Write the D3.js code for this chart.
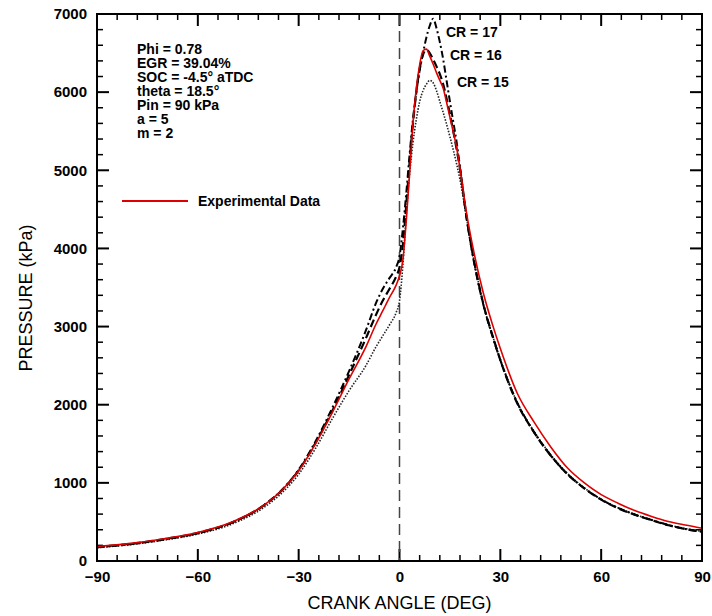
<!DOCTYPE html>
<html>
<head>
<meta charset="utf-8">
<script src="https://cdn.jsdelivr.net/npm/d3@7"></script>
<style>
body { margin: 0; background: #fff; }
text { font-family: "Liberation Sans", Arial, sans-serif; }
</style>
</head>
<body>
<svg id="chart" width="712" height="616"></svg>
<script>
'use strict';

// crank angle (deg) shared by every series
const crankAngle = [-90, -80, -70, -60, -50, -40, -35, -30, -25, -20, -15, -10, -7, -5, -3, -1, 0, 1, 2, 3, 4, 5, 6, 7, 8, 9, 10,
    11, 12, 13, 14, 15, 16, 17, 18, 20, 22, 25, 28, 30, 35, 40, 45, 50, 55, 60, 65, 70, 75, 80, 85, 90];

// pressure (kPa)
const experimental = [185, 225, 285, 365, 495, 725, 905, 1155, 1500, 1900, 2330, 2740, 3030, 3200, 3370, 3530, 3650, 3850, 4350, 4950, 5600, 6050,
    6350, 6530, 6550, 6460, 6360, 6250, 6150, 6050, 5870, 5680, 5490, 5290, 5020, 4440, 3980, 3420, 2980, 2720, 2150, 1780, 1460, 1190,
    1000, 850, 740, 645, 570, 505, 460, 420];
const cr17 = [175, 215, 275, 355, 490, 725, 910, 1170, 1530, 1960, 2430, 2950, 3300, 3480, 3620, 3760, 3900, 4250, 4700, 5200, 5650, 6000,
    6280, 6500, 6700, 6850, 6940, 6820, 6640, 6420, 6150, 5880, 5620, 5360, 5040, 4380, 3860, 3270, 2830, 2570, 2030, 1650, 1350, 1110,
    930, 790, 680, 595, 525, 460, 410, 375];
const cr16 = [180, 220, 280, 360, 490, 725, 905, 1160, 1510, 1920, 2380, 2850, 3150, 3330, 3480, 3640, 3760, 4050, 4550, 5100, 5600, 6000,
    6300, 6480, 6540, 6500, 6420, 6330, 6230, 6100, 5920, 5720, 5500, 5270, 5020, 4380, 3880, 3280, 2840, 2570, 2020, 1650, 1350, 1110,
    930, 785, 675, 592, 522, 457, 410, 375];
const cr15 = [170, 210, 268, 345, 470, 695, 870, 1110, 1440, 1820, 2180, 2500, 2740, 2880, 3020, 3180, 3330, 3780, 4420, 4950, 5350, 5650,
    5880, 6020, 6100, 6150, 6120, 6020, 5880, 5740, 5590, 5430, 5260, 5080, 4880, 4380, 3880, 3280, 2840, 2580, 2030, 1660, 1360, 1120,
    935, 790, 682, 596, 527, 462, 415, 378];

const xTicks = [-90, -60, -30, 0, 30, 60, 90];
const yTicks = [0, 1000, 2000, 3000, 4000, 5000, 6000, 7000];
const notes = ['Phi = 0.78', 'EGR = 39.04%', 'SOC = -4.5\u00b0 aTDC', 'theta = 18.5\u00b0', 'Pin = 90 kPa', 'a = 5', 'm = 2'];
const crLabels = ['CR = 17', 'CR = 16', 'CR = 15'];

const svg = d3.select('#chart');
const plotLeft = 97, plotRight = 702, plotTop = 14, plotBottom = 561;

const x = d3.scaleLinear().domain([-90, 90]).range([plotLeft, plotRight]);
const y = d3.scaleLinear().domain([0, 7000]).range([plotBottom, plotTop]);

// tick labels from d3 axes
function styleLabels(g)
{
    g.select('.domain').remove();
    g.selectAll('.tick line').remove();
    g.selectAll('text').attr('fill', '#000').attr('font-size', 15).attr('font-weight', 'bold');
}
svg.append('g').attr('transform', `translate(0,${plotBottom})`)
    .call(d3.axisBottom(x).tickValues(xTicks).tickSize(0).tickPadding(10).tickFormat(d3.format('d')))
    .call(styleLabels);
svg.append('g').attr('transform', `translate(${plotLeft},0)`)
    .call(d3.axisLeft(y).tickValues(yTicks).tickSize(0).tickPadding(10).tickFormat(d3.format('d')))
    .call(styleLabels);

// inward tick marks on all four sides
const xMinor = d3.range(-90, 91, 6).filter(v => v % 30 !== 0);
const yMinor = d3.range(0, 7001, 200).filter(v => v % 1000 !== 0);
const ticks = svg.append('g');

function xTickMarks(values, len, width)
{
    [[plotBottom, -1], [plotTop, 1]].forEach(([base, dir]) => {
        ticks.append('g').selectAll('line')
            .data(values).enter().append('line')
            .attr('x1', d => x(d)).attr('x2', d => x(d))
            .attr('y1', base).attr('y2', base + dir * len)
            .attr('stroke', '#000').attr('stroke-width', width);
    });
}
function yTickMarks(values, len, width)
{
    [[plotLeft, 1], [plotRight, -1]].forEach(([base, dir]) => {
        ticks.append('g').selectAll('line')
            .data(values).enter().append('line')
            .attr('y1', d => y(d)).attr('y2', d => y(d))
            .attr('x1', base).attr('x2', base + dir * len)
            .attr('stroke', '#000').attr('stroke-width', width);
    });
}
xTickMarks(xMinor, 6, 1.5);
xTickMarks(xTicks, 12, 2);
yTickMarks(yMinor, 6, 1.5);
yTickMarks(yTicks, 12, 2);

// TDC marker
svg.append('line')
    .attr('x1', x(0)).attr('x2', x(0)).attr('y1', plotTop).attr('y2', plotBottom)
    .attr('stroke', '#444').attr('stroke-width', 1.5).attr('stroke-dasharray', '11,6');

const line = d3.line()
    .x((d, i) => x(crankAngle[i]))
    .y(d => y(d))
    .curve(d3.curveMonotoneX);

const series = [
    { values: cr15, color: '#222', width: 1.6, dash: '1.5,1.5' },
    { values: cr16, color: '#000', width: 2.2, dash: '8,4' },
    { values: cr17, color: '#000', width: 2, dash: '7,3,2,3' },
    { values: experimental, color: '#dd0000', width: 1.6, dash: null }
];

svg.append('g').selectAll('path')
    .data(series).enter().append('path')
    .attr('d', d => line(d.values))
    .attr('fill', 'none')
    .attr('stroke', d => d.color)
    .attr('stroke-width', d => d.width)
    .attr('stroke-dasharray', d => d.dash);

// plot frame
svg.append('rect')
    .attr('x', plotLeft).attr('y', plotTop).attr('width', plotRight - plotLeft).attr('height', plotBottom - plotTop)
    .attr('fill', 'none').attr('stroke', '#000').attr('stroke-width', 2);

// run conditions
svg.append('g').selectAll('text')
    .data(notes).enter().append('text')
    .attr('x', 137)
    .attr('y', (d, i) => 54 + i * 14)
    .attr('font-size', 14).attr('font-weight', 'bold')
    .text(d => d);

// legend
svg.append('line')
    .attr('x1', 122).attr('x2', 188).attr('y1', 201).attr('y2', 201)
    .attr('stroke', '#dd0000').attr('stroke-width', 2);
svg.append('text')
    .attr('x', 198).attr('y', 206)
    .attr('font-size', 14).attr('font-weight', 'bold')
    .text('Experimental Data');

// compression ratio labels
const crPos = [[446, 37], [450, 60], [457, 87]];
svg.append('g').selectAll('text')
    .data(crLabels).enter().append('text')
    .attr('x', (d, i) => crPos[i][0])
    .attr('y', (d, i) => crPos[i][1])
    .attr('font-size', 14).attr('font-weight', 'bold')
    .text(d => d);

// axis titles
svg.append('text')
    .attr('x', (plotLeft + plotRight) / 2).attr('y', 609)
    .attr('text-anchor', 'middle').attr('font-size', 18)
    .text('CRANK ANGLE (DEG)');
svg.append('text')
    .attr('transform', 'translate(32,298) rotate(-90)')
    .attr('text-anchor', 'middle').attr('font-size', 18)
    .text('PRESSURE (kPa)');
</script>
</body>
</html>
